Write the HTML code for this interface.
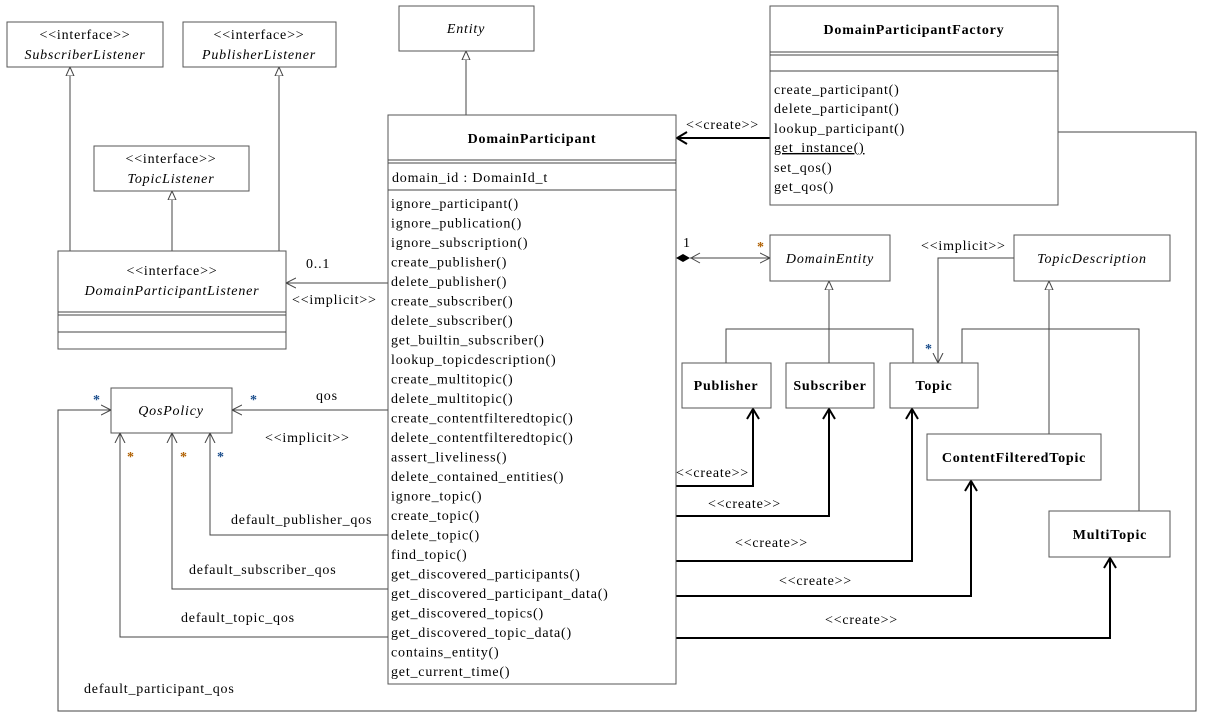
<!DOCTYPE html>
<html><head><meta charset="utf-8"><style>
body{margin:0;background:#fff}
svg text{font-family:"Liberation Serif",serif;font-size:14px;letter-spacing:0.8px;fill:#000}
.i{font-style:italic}
.b{font-weight:bold}
.bx{fill:#fff;stroke:#555;stroke-width:1}
.ln{fill:none;stroke:#444;stroke-width:1}
.tk{fill:none;stroke:#000;stroke-width:2}
.st{font-weight:bold;fill:#1a4d8c}
.so{font-weight:bold;fill:#b06000}
</style></head><body>
<svg width="1206" height="719" viewBox="0 0 1206 719" xmlns="http://www.w3.org/2000/svg">
<defs>
<marker id="tri" markerWidth="10" markerHeight="10" refX="9" refY="5" orient="auto" markerUnits="userSpaceOnUse"><path d="M0,1 L9,5 L0,9 Z" fill="#fff" stroke="#444"/></marker>
<marker id="op" markerWidth="12" markerHeight="12" refX="10" refY="6" orient="auto" markerUnits="userSpaceOnUse"><path d="M0,1 L10,6 L0,11" fill="none" stroke="#444"/></marker>
<marker id="opk" markerWidth="14" markerHeight="14" refX="11" refY="7" orient="auto" markerUnits="userSpaceOnUse"><path d="M1,1 L11,7 L1,13" fill="none" stroke="#000" stroke-width="2"/></marker>
</defs>

<line class="ln" x1="70" y1="251" x2="70" y2="67" marker-end="url(#tri)"/>
<line class="ln" x1="279" y1="251" x2="279" y2="67" marker-end="url(#tri)"/>
<line class="ln" x1="172" y1="251" x2="172" y2="191" marker-end="url(#tri)"/>
<line class="ln" x1="466" y1="115" x2="466" y2="51" marker-end="url(#tri)"/>
<line class="tk" x1="770" y1="138" x2="677" y2="138" marker-end="url(#opk)"/>
<polyline class="ln" points="1058,132 1196,132 1196,711 58,711 58,410 111,410" marker-end="url(#op)"/>
<line class="ln" x1="388" y1="283" x2="286" y2="283" marker-end="url(#op)"/>
<line class="ln" x1="388" y1="410" x2="232" y2="410" marker-end="url(#op)"/>
<polyline class="ln" points="388,535 210,535 210,433" marker-end="url(#op)"/>
<polyline class="ln" points="388,589 172,589 172,433" marker-end="url(#op)"/>
<polyline class="ln" points="388,637 120,637 120,433" marker-end="url(#op)"/>
<line class="ln" x1="690" y1="258" x2="770" y2="258" marker-end="url(#op)"/>
<path d="M676,258 L683,254 L690,258 L683,262 Z" fill="#000"/>
<path d="M700,253 L691,258 L700,263" fill="none" stroke="#444"/>
<line class="ln" x1="829" y1="329" x2="829" y2="281" marker-end="url(#tri)"/>
<polyline class="ln" points="726,363 726,329 913,329 913,363"/>
<line class="ln" x1="829" y1="329" x2="829" y2="363"/>
<line class="ln" x1="1049" y1="434" x2="1049" y2="281" marker-end="url(#tri)"/>
<polyline class="ln" points="962,363 962,329 1139,329 1139,511"/>
<polyline class="ln" points="1014,258 938,258 938,363" marker-end="url(#op)"/>
<polyline class="tk" points="676,486 753,486 753,409" marker-end="url(#opk)"/>
<polyline class="tk" points="676,516 829,516 829,409" marker-end="url(#opk)"/>
<polyline class="tk" points="676,561 912,561 912,409" marker-end="url(#opk)"/>
<polyline class="tk" points="676,596 971,596 971,481" marker-end="url(#opk)"/>
<polyline class="tk" points="676,638 1110,638 1110,558" marker-end="url(#opk)"/>

<rect class="bx" x="7" y="22" width="156" height="45"/>
<text x="85" y="39" text-anchor="middle">&lt;&lt;interface&gt;&gt;</text>
<text x="85" y="59" text-anchor="middle" class="i">SubscriberListener</text>
<rect class="bx" x="183" y="22" width="153" height="45"/>
<text x="259" y="39" text-anchor="middle">&lt;&lt;interface&gt;&gt;</text>
<text x="259" y="59" text-anchor="middle" class="i">PublisherListener</text>
<rect class="bx" x="399" y="6" width="135" height="45"/>
<text x="466" y="33" text-anchor="middle" class="i">Entity</text>
<rect class="bx" x="94" y="146" width="155" height="45"/>
<text x="171" y="163" text-anchor="middle">&lt;&lt;interface&gt;&gt;</text>
<text x="171" y="183" text-anchor="middle" class="i">TopicListener</text>

<rect class="bx" x="58" y="251" width="228" height="98"/>
<text x="172" y="275" text-anchor="middle">&lt;&lt;interface&gt;&gt;</text>
<text x="172" y="295" text-anchor="middle" class="i">DomainParticipantListener</text>
<line class="ln" x1="58" y1="312" x2="286" y2="312"/><line class="ln" x1="58" y1="315" x2="286" y2="315"/>
<line class="ln" x1="58" y1="332" x2="286" y2="332"/>

<rect class="bx" x="111" y="388" width="121" height="45"/>
<text x="171" y="415" text-anchor="middle" class="i">QosPolicy</text>

<rect class="bx" x="770" y="6" width="288" height="199"/>
<text x="914" y="34" text-anchor="middle" class="b">DomainParticipantFactory</text>
<line class="ln" x1="770" y1="52" x2="1058" y2="52"/><line class="ln" x1="770" y1="55" x2="1058" y2="55"/>
<line class="ln" x1="770" y1="71" x2="1058" y2="71"/>
<g>
<text x="774" y="94">create_participant()</text>
<text x="774" y="113">delete_participant()</text>
<text x="774" y="133">lookup_participant()</text>
<text x="774" y="152" text-decoration="underline">get_instance()</text>
<text x="774" y="172">set_qos()</text>
<text x="774" y="191">get_qos()</text>
</g>

<rect class="bx" x="388" y="115" width="288" height="569"/>
<text x="532" y="143" text-anchor="middle" class="b">DomainParticipant</text>
<line class="ln" x1="388" y1="160" x2="676" y2="160"/><line class="ln" x1="388" y1="163" x2="676" y2="163"/>
<text x="392" y="182">domain_id : DomainId_t</text>
<line class="ln" x1="388" y1="190" x2="676" y2="190"/>
<g>
<text x="391" y="208">ignore_participant()</text>
<text x="391" y="227.5">ignore_publication()</text>
<text x="391" y="247">ignore_subscription()</text>
<text x="391" y="266.5">create_publisher()</text>
<text x="391" y="286">delete_publisher()</text>
<text x="391" y="305.5">create_subscriber()</text>
<text x="391" y="325">delete_subscriber()</text>
<text x="391" y="344.5">get_builtin_subscriber()</text>
<text x="391" y="364">lookup_topicdescription()</text>
<text x="391" y="383.5">create_multitopic()</text>
<text x="391" y="403">delete_multitopic()</text>
<text x="391" y="422.5">create_contentfilteredtopic()</text>
<text x="391" y="442">delete_contentfilteredtopic()</text>
<text x="391" y="461.5">assert_liveliness()</text>
<text x="391" y="481">delete_contained_entities()</text>
<text x="391" y="500.5">ignore_topic()</text>
<text x="391" y="520">create_topic()</text>
<text x="391" y="539.5">delete_topic()</text>
<text x="391" y="559">find_topic()</text>
<text x="391" y="578.5">get_discovered_participants()</text>
<text x="391" y="598">get_discovered_participant_data()</text>
<text x="391" y="617.5">get_discovered_topics()</text>
<text x="391" y="637">get_discovered_topic_data()</text>
<text x="391" y="656.5">contains_entity()</text>
<text x="391" y="676">get_current_time()</text>
</g>

<rect class="bx" x="770" y="235" width="120" height="46"/>
<text x="830" y="263" text-anchor="middle" class="i">DomainEntity</text>
<rect class="bx" x="1014" y="235" width="156" height="46"/>
<text x="1092" y="263" text-anchor="middle" class="i">TopicDescription</text>
<rect class="bx" x="682" y="363" width="89" height="45"/>
<text x="726" y="390" text-anchor="middle" class="b">Publisher</text>
<rect class="bx" x="786" y="363" width="88" height="45"/>
<text x="830" y="390" text-anchor="middle" class="b">Subscriber</text>
<rect class="bx" x="890" y="363" width="88" height="45"/>
<text x="934" y="390" text-anchor="middle" class="b">Topic</text>
<rect class="bx" x="927" y="434" width="174" height="46"/>
<text x="1014" y="462" text-anchor="middle" class="b">ContentFilteredTopic</text>
<rect class="bx" x="1049" y="511" width="121" height="46"/>
<text x="1110" y="539" text-anchor="middle" class="b">MultiTopic</text>

<text x="686" y="129">&lt;&lt;create&gt;&gt;</text>
<text x="306" y="268">0..1</text>
<text x="292" y="304">&lt;&lt;implicit&gt;&gt;</text>
<text x="316" y="400">qos</text>
<text x="265" y="442">&lt;&lt;implicit&gt;&gt;</text>
<text x="231" y="524">default_publisher_qos</text>
<text x="189" y="574">default_subscriber_qos</text>
<text x="181" y="622">default_topic_qos</text>
<text x="84" y="693">default_participant_qos</text>
<text x="683" y="247">1</text>
<text x="921" y="250">&lt;&lt;implicit&gt;&gt;</text>
<text x="676" y="477">&lt;&lt;create&gt;&gt;</text>
<text x="708" y="508">&lt;&lt;create&gt;&gt;</text>
<text x="735" y="547">&lt;&lt;create&gt;&gt;</text>
<text x="779" y="585">&lt;&lt;create&gt;&gt;</text>
<text x="825" y="624">&lt;&lt;create&gt;&gt;</text>
<text x="757" y="251" class="so">*</text>
<text x="925" y="353" class="st">*</text>
<text x="93" y="404" class="st">*</text>
<text x="250" y="404" class="st">*</text>
<text x="127" y="461" class="so">*</text>
<text x="180" y="461" class="so">*</text>
<text x="217" y="461" class="st">*</text>
</svg>
</body></html>
